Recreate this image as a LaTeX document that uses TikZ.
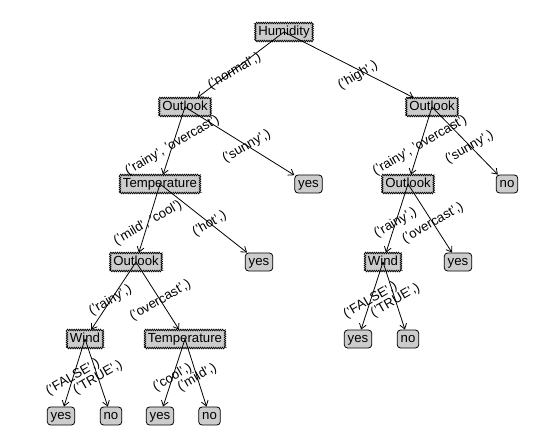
\documentclass[tikz,border=0pt]{standalone}
\usepackage{fontspec}
\setmainfont{Liberation Sans}
\usetikzlibrary{arrows.meta,decorations.pathmorphing,calc}
\begin{document}
\begin{tikzpicture}[x=1pt,y=-1pt,
  font=\fontsize{13.2}{15}\selectfont,
  dec/.style={draw, fill=black!20, line width=0.7pt, decorate,
    decoration={zigzag, segment length=2.2pt, amplitude=0.8pt},
    inner xsep=3pt, inner ysep=2.9pt, text height=9.5pt, text depth=2.8pt},
  leaf/.style={draw, fill=black!20, line width=0.8pt, rounded corners=3.5pt,
    inner xsep=3.5pt, inner ysep=2.9pt, text height=9.5pt, text depth=2.8pt},
  edge/.style={line width=0.8pt, -{Straight Barb[length=5pt,width=7pt]}},
  lab/.style={rotate=30, inner sep=0pt}]
\useasboundingbox (0,0) rectangle (546,435);
% nodes
\node[dec]  (h)  at (284,32)    {Humidity};
\node[dec]  (o1) at (185,107)   {Outlook};
\node[dec]  (o2) at (432,107)   {Outlook};
\node[dec]  (t1) at (160,184)   {Temperature};
\node[leaf] (y1) at (308.5,184) {yes};
\node[dec]  (o3) at (408,184)   {Outlook};
\node[leaf] (n1) at (507,184)   {no};
\node[dec]  (o4) at (136,262)   {Outlook};
\node[leaf] (y2) at (259,262)   {yes};
\node[dec]  (w1) at (383,262)   {Wind};
\node[leaf] (y3) at (458,262)   {yes};
\node[dec]  (w2) at (85,339)    {Wind};
\node[dec]  (t2) at (185,339)   {Temperature};
\node[leaf] (y4) at (358,339)   {yes};
\node[leaf] (n2) at (408,339)   {no};
\node[leaf] (y5) at (61,416)    {yes};
\node[leaf] (n3) at (111,416)   {no};
\node[leaf] (y6) at (160,416)   {yes};
\node[leaf] (n4) at (209.5,416) {no};
% edges
\foreach \a/\b in {h/o1,h/o2,o1/t1,o1/y1,o2/o3,o2/n1,t1/o4,t1/y2,o3/w1,o3/y3,
                   o4/w2,o4/t2,w1/y4,w1/n2,w2/y5,w2/n3,t2/y6,t2/n4}
  \draw[edge] (\a.center) -- (\b);
% labels
\foreach \a/\b/\dy/\t in {h/o1/2/{('normal',)}, h/o2/6/{('high',)},
   o1/t1/0/{('rainy', 'overcast')}, o1/y1/1/{('sunny',)},
   o2/o3/0/{('rainy', 'overcast')}, o2/n1/2/{('sunny',)},
   t1/o4/0/{('mild', 'cool')}, t1/y2/1/{('hot',)},
   o3/w1/0/{('rainy',)}, o3/y3/0/{('overcast',)},
   o4/w2/0/{('rainy',)}, o4/t2/0/{('overcast',)},
   w1/y4/0/{('FALSE',)}, w1/n2/0/{('TRUE',)},
   w2/y5/0/{('FALSE',)}, w2/n3/0/{('TRUE',)},
   t2/y6/0/{('cool',)}, t2/n4/0/{('mild',)}}
  \node[lab] (l-\a-\b) at ($($(\a.center)!0.5!(\b.center)$)+(0,\dy)$) {\t};
\end{tikzpicture}
\end{document}
